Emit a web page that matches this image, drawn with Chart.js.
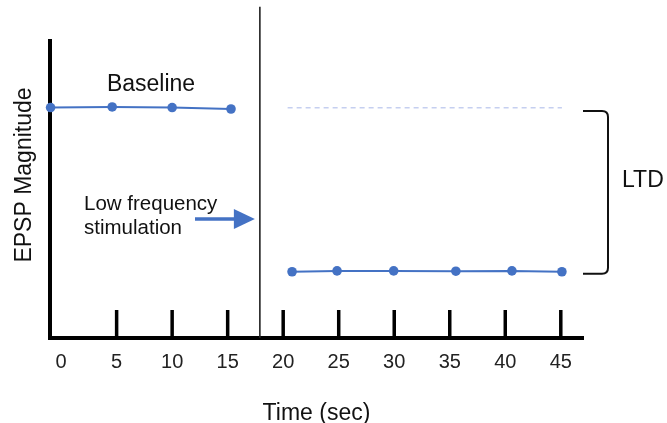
<!DOCTYPE html>
<html>
<head>
<meta charset="utf-8">
<script src="https://cdn.jsdelivr.net/npm/chart.js@4.4.1/dist/chart.umd.min.js"></script>
<style>
  html, body { margin: 0; padding: 0; background: #fff; }
  #wrap { width: 667px; height: 423px; }
</style>
</head>
<body>
<div id="wrap"><canvas id="chart" width="667" height="423"></canvas></div>
<script>
// values (time in sec, EPSP magnitude in arbitrary units 0-100)
const xTicks = [0, 5, 10, 15, 20, 25, 30, 35, 40, 45];
const baselineTime = [-0.95, 4.6, 10.0, 15.3];
const baselineEpsp = [77.6, 77.8, 77.6, 77.1];
const ltdTime = [20.8, 24.85, 29.95, 35.55, 40.6, 45.1];
const ltdEpsp = [22.3, 22.6, 22.6, 22.5, 22.6, 22.3];
const refTime = [20.4, 45.1];
const refEpsp = [77.5, 77.5];
const stimTime = [17.9, 17.9];
const stimEpsp = [0, 111.5];
const ltdSpan = [76.4, 21.6];

const FONT = "'Liberation Sans', Arial, Helvetica, sans-serif";
const BLUE = "#4472c4";

function pts(xs, ys) {
  return xs.map((x, i) => ({ x: x, y: ys[i] }));
}

// tick marks pointing up into the plot, plus the hand-drawn annotations
const annotations = {
  id: "annotations",
  afterDraw(chart) {
    const ctx = chart.ctx;
    const x = chart.scales.x;
    const y = chart.scales.y;
    const area = chart.chartArea;
    ctx.save();

    // inward ticks
    ctx.strokeStyle = "#000";
    ctx.lineWidth = 3.5;
    x.ticks.forEach(t => {
      if (t.value <= 0) return;
      const px = x.getPixelForValue(t.value);
      ctx.beginPath();
      ctx.moveTo(px, area.bottom);
      ctx.lineTo(px, area.bottom - 28);
      ctx.stroke();
    });

    // LTD bracket
    const top = y.getPixelForValue(ltdSpan[0]);
    const bot = y.getPixelForValue(ltdSpan[1]);
    const bx0 = area.right, bx1 = area.right + 25;
    ctx.lineWidth = 2;
    ctx.strokeStyle = "#111";
    ctx.beginPath();
    ctx.moveTo(bx0, top);
    ctx.lineTo(bx1 - 6, top);
    ctx.quadraticCurveTo(bx1, top, bx1, top + 6);
    ctx.lineTo(bx1, bot - 6);
    ctx.quadraticCurveTo(bx1, bot, bx1 - 6, bot);
    ctx.lineTo(bx0, bot);
    ctx.stroke();

    // arrow towards the stimulation line
    const ax1 = x.getPixelForValue(stimTime[0]) - 5;
    const ay = 219;
    ctx.strokeStyle = BLUE;
    ctx.fillStyle = BLUE;
    ctx.lineWidth = 3.5;
    ctx.beginPath();
    ctx.moveTo(195, ay);
    ctx.lineTo(ax1 - 18, ay);
    ctx.stroke();
    ctx.beginPath();
    ctx.moveTo(ax1 - 21, ay - 10);
    ctx.lineTo(ax1, ay);
    ctx.lineTo(ax1 - 21, ay + 10);
    ctx.closePath();
    ctx.fill();

    // texts
    ctx.fillStyle = "#111";
    ctx.textBaseline = "middle";
    ctx.textAlign = "center";
    ctx.font = "23px " + FONT;
    ctx.fillText("Baseline", 151, 85);

    ctx.textAlign = "left";
    ctx.fillText("LTD", 622, 181);

    ctx.textBaseline = "alphabetic";
    ctx.font = "20.5px " + FONT;
    ctx.fillText("Low frequency", 84, 210);
    ctx.fillText("stimulation", 84, 234);

    ctx.translate(25, 175);
    ctx.rotate(-Math.PI / 2);
    ctx.textAlign = "center";
    ctx.textBaseline = "middle";
    ctx.font = "23px " + FONT;
    ctx.fillText("EPSP Magnitude", 0, 0);
    ctx.restore();
  }
};

new Chart(document.getElementById("chart"), {
  type: "line",
  data: {
    datasets: [
      {
        data: pts(baselineTime, baselineEpsp),
        borderColor: BLUE,
        backgroundColor: BLUE,
        borderWidth: 2,
        pointRadius: 4.8,
        pointBorderWidth: 0,
        clip: false
      },
      {
        data: pts(ltdTime, ltdEpsp),
        borderColor: BLUE,
        backgroundColor: BLUE,
        borderWidth: 2,
        pointRadius: 4.8,
        pointBorderWidth: 0,
        clip: false
      },
      {
        data: pts(refTime, refEpsp),
        borderColor: "#c5cff0",
        borderWidth: 1.5,
        borderDash: [5, 4],
        pointRadius: 0
      },
      {
        data: pts(stimTime, stimEpsp),
        borderColor: "#222",
        borderWidth: 1.6,
        pointRadius: 0,
        clip: false
      }
    ]
  },
  options: {
    responsive: false,
    animation: false,
    layout: { padding: { left: 50, right: 84, top: 41, bottom: 0 } },
    plugins: {
      legend: { display: false },
      tooltip: { enabled: false }
    },
    scales: {
      x: {
        type: "linear",
        min: -1,
        max: 47,
        afterBuildTicks: s => { s.ticks = xTicks.map(v => ({ value: v })); },
        grid: { display: true, drawOnChartArea: false, drawTicks: false },
        border: { display: true, color: "#000", width: 4 },
        ticks: {
          color: "#222",
          padding: 12,
          autoSkip: false,
          maxRotation: 0,
          font: { family: FONT, size: 20 }
        },
        title: {
          display: true,
          text: "Time (sec)",
          color: "#111",
          font: { family: FONT, size: 23, lineHeight: 1 },
          padding: { top: 16, bottom: -2 }
        }
      },
      y: {
        type: "linear",
        min: 0,
        max: 100,
        grid: { display: true, drawOnChartArea: false, drawTicks: false },
        border: { display: true, color: "#000", width: 4 },
        ticks: { display: false }
      }
    }
  },
  plugins: [annotations]
});
</script>
</body>
</html>
